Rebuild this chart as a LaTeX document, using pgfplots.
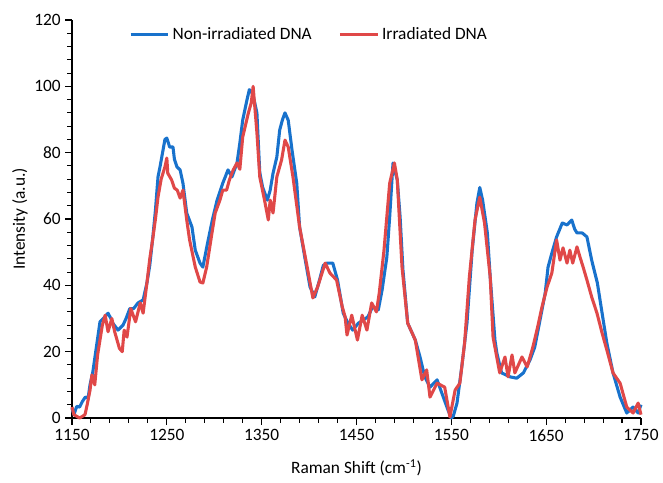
\documentclass[border=0pt]{standalone}
\usepackage{pgfplots}
\pgfplotsset{compat=1.18}
\usepackage{fontspec}
\setmainfont{Carlito}

\definecolor{specblue}{RGB}{24,114,204}
\definecolor{specred}{RGB}{224,72,72}

\begin{document}
\begin{tikzpicture}
  \begin{axis}[
    name=ax,
    scale only axis,
    width=426.75pt, height=298.5pt,
    xmin=1150, xmax=1750, ymin=0, ymax=120,
    xtick={1150,1250,...,1750}, ytick={0,20,...,120},
    minor x tick num=4, minor y tick num=4,
    axis lines=left, axis line style={-, line width=1pt},
    tick align=outside,
    major tick length=5pt, minor tick length=3.5pt,
    every tick/.style={black, line width=0.8pt},
    /pgf/number format/assume math mode=true,
    /pgf/number format/1000 sep={},
    tick label style={font=\fontsize{13}{15}\selectfont},
    label style={font=\fontsize{13}{15}\selectfont},
    xlabel={Raman Shift (cm\textsuperscript{-1})},
    ylabel={Intensity (a.u.)},
    xlabel style={at={(axis description cs:0.5,-0.1256)}, anchor=center},
    ylabel style={at={(axis description cs:-0.0914,0.5)}, anchor=center},
    clip=false,
    legend style={at={(0.417,0.995)}, anchor=north, draw=none, fill=none,
      legend columns=2, font=\fontsize{13}{15}\selectfont,
      /tikz/every even column/.append style={column sep=18pt}},
    legend image code/.code={\draw[#1] (0cm,0cm) -- (1cm,0cm);},
    every axis plot/.append style={line width=2.3pt, line join=round},
  ]
    \addplot[specblue] coordinates {
      (1150,3) (1152,1) (1155,3.5) (1158,3.3) (1161,5) (1164,6.3) (1167,6)
      (1169,10) (1172,14) (1174,18) (1177,24) (1179.5,29) (1183,30) (1188,31.6)
      (1191,30) (1193,28.6) (1198.5,26.5) (1203.8,28) (1207,30) (1211,33)
      (1215,33) (1219.6,34.7) (1225,35.6) (1229,40.7) (1232,46) (1235.4,55)
      (1238,62.7) (1240.7,72.7) (1243,76) (1246,80.8) (1248,84) (1250,84.4)
      (1253,81.7) (1256.5,81.7) (1258,78) (1260.7,75.7) (1264,74.8) (1267,70.8)
      (1271,61.8) (1276.5,57.6) (1280,50.6) (1285,46.7) (1288,45.5) (1293,52.8)
      (1298,59.7) (1303,65.7) (1309,70.8) (1314.5,74.8) (1318.7,72.7) (1324,76.9)
      (1327,82.9) (1330,89.8) (1334.5,95.9) (1337,99) (1340,98) (1342,96)
      (1345,92) (1348,74) (1351,69.6) (1356,65.7) (1359,68.7) (1362,73.8)
      (1366,78.7) (1369,86.8) (1372,90) (1374.6,92) (1378,89.8) (1382,80.8)
      (1387,70.8) (1390,57.6) (1396,47.6) (1401,39.5) (1406,36.5) (1411,41.6)
      (1415,46) (1419,46.7) (1425,46.7) (1430,41.6) (1436,31.6) (1441,28.6)
      (1446,26.5) (1452,28.6) (1457,29.5) (1462,30.5) (1467,33.5) (1473,32.6)
      (1477,38.6) (1482,48.5) (1485,60.6) (1488.5,76.9) (1490,75) (1493,71.8)
      (1496,60.6) (1499,44.6) (1504,28.6) (1512,23.5) (1517,18.4) (1522,12.4)
      (1527.5,9.3) (1535,11.5) (1540,7.5) (1546.5,2.4) (1550,0) (1552,0.5)
      (1556,4.5) (1561,15.4) (1566.5,28.6) (1572,50.6) (1577,64.8) (1580,69.5)
      (1583,65.7) (1588,55.8) (1591,42.5) (1596,23.5) (1598,19.6) (1603,13.6)
      (1612,12.4) (1619,12) (1626,13.6) (1633,17.5) (1638,21.4) (1643.5,29.5)
      (1649,37.7) (1652,45.5) (1656,49.7) (1661,54.6) (1667,58.8) (1672,58.2)
      (1677,59.7) (1680,57) (1682.5,55.8) (1688,55.8) (1693,54.6) (1698,47.6)
      (1704,40.7) (1709,31.6) (1714,22.6) (1720.5,13.6) (1728,6.3) (1735,1.5)
      (1741.6,3.3) (1747,1.5) (1750,4)
    };
    \addlegendentry{Non-irradiated DNA}
    \addplot[specred] coordinates {
      (1150,3.3) (1152,1) (1155,0.5) (1158,0) (1161,0.5) (1163.7,1) (1166,4)
      (1169,8.4) (1171,13) (1174,10) (1177,19) (1182,28) (1185,31) (1188,26)
      (1192,30) (1195,26) (1200,21) (1203,20) (1205,26.5) (1208,24.4) (1212,33)
      (1217,29) (1222,34.7) (1225,31.6) (1229,40.7) (1232,48) (1235,53.7)
      (1238,60) (1240.7,66.6) (1244,72) (1248,75.7) (1250,78.4) (1251,73.8)
      (1255,71.8) (1258,69.3) (1261,68.7) (1264,66.3) (1267,68.7) (1271,59.7)
      (1274,53.7) (1280,45.5) (1285,41) (1288,40.7) (1292,45.5) (1297.6,55.8)
      (1301,61.8) (1306,65.7) (1309,68.7) (1313,68.7) (1316,71.8) (1320,74.8)
      (1324,76.9) (1327,75) (1330,84.7) (1336,92) (1339,95) (1341,100) (1343,93)
      (1345,86) (1348,72.7) (1353,65.7) (1357,59.7) (1359,65.7) (1362,61.8)
      (1366,72.7) (1371,77.8) (1374.6,83.8) (1378,81.7) (1383,72.7) (1390,57.6)
      (1398,45.5) (1404,36.2) (1409,39.5) (1417,46.7) (1422,43.7) (1429,41.6)
      (1435,33.5) (1438,30.5) (1440,25) (1445,31) (1451,23.5) (1456,31)
      (1461,26.5) (1466,34.7) (1471,32) (1474,37.7) (1479,50.6) (1485,70.8)
      (1490,76.9) (1493,71.8) (1498,45.5) (1504,28.6) (1512,23.5) (1519,11.5)
      (1524,14.5) (1527.5,6.3) (1535,10.5) (1543,9.3) (1548.5,0.3) (1554,8.4)
      (1559,10.5) (1564,22.6) (1569,42.5) (1575,59.7) (1580,66.6) (1585,58.8)
      (1591,42.5) (1594,24.4) (1601,13.6) (1606.6,18.4) (1609.8,12.4) (1614,19)
      (1617,13.6) (1624.5,18.4) (1630,15.4) (1636,21.4) (1641,27.4) (1645.6,33.5)
      (1651,39.5) (1656,43.7) (1659,49.7) (1661,53.7) (1664.6,47.6) (1667.8,51.3)
      (1672,46.7) (1675,50.6) (1678,46.7) (1682.5,51.6) (1685.7,48.5) (1689,45.5)
      (1693,41.6) (1698,36.5) (1703.6,31.6) (1709,25.6) (1714,20.5) (1720.5,13.6)
      (1728,10.5) (1735,3.3) (1741.6,1.5) (1747,4.5) (1750,1)
    };
    \addlegendentry{Irradiated DNA}
  \end{axis}
  \path ([xshift=-54pt,yshift=-48.75pt]ax.south west)
    rectangle ([xshift=16.5pt,yshift=15pt]ax.north east);
\end{tikzpicture}
\end{document}
